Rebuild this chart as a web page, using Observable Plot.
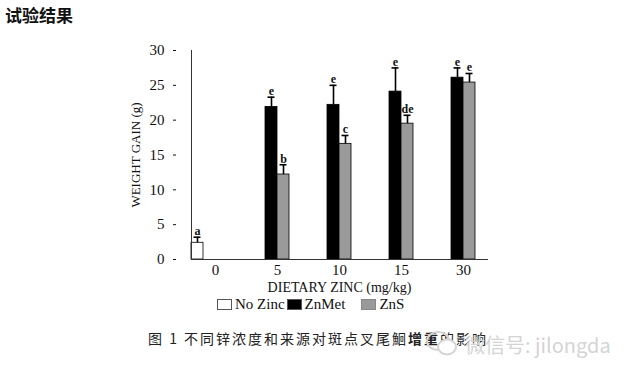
<!DOCTYPE html>
<html><head><meta charset="utf-8">
<script src="https://cdn.jsdelivr.net/npm/d3@7"></script>
<script src="https://cdn.jsdelivr.net/npm/@observablehq/plot@0.6"></script>
<style>
body{margin:0;background:#fff;width:640px;height:379px;position:relative;overflow:hidden;}
#chart{position:absolute;left:0;top:0;}
.title{position:absolute;left:5px;top:3px;font:bold 17px "Noto Sans CJK SC",sans-serif;color:#111;line-height:24px;}
.legend{position:absolute;left:217px;top:296px;font:15px "Liberation Serif",serif;color:#111;display:flex;align-items:center;white-space:nowrap;}
.legend .sw{display:inline-block;width:15px;height:11px;box-sizing:border-box;margin-right:3px;}
.legend .it{display:flex;align-items:center;}
.caption{position:absolute;left:148px;top:328px;font:14px "Noto Sans CJK SC",sans-serif;color:#222;letter-spacing:2px;line-height:20px;white-space:nowrap;}
.wm{position:absolute;left:465px;top:332px;font:20px "Noto Sans CJK SC",sans-serif;color:#d4d4d4;line-height:26px;white-space:nowrap;}
.wmicon{position:absolute;left:425px;top:330px;}
</style></head><body>
<div class="title">试验结果</div>
<div id="chart"></div>
<div class="legend" id="legend"></div>
<div class="caption">图 1 不同锌浓度和来源对斑点叉尾鮰<b>增重</b>的影响</div>
<svg class="wmicon" width="34" height="28" viewBox="0 0 34 28"><g fill="none" stroke="#d4d4d4" stroke-width="2"><ellipse cx="13" cy="11" rx="11" ry="9"/><ellipse cx="22" cy="17" rx="9" ry="7.5" fill="#fff"/></g></svg>
<div class="wm">微信号: jilongda</div>
<script>
const doses = ["0", "5", "10", "15", "30"];
const series = ["No Zinc", "ZnMet", "ZnS"];
const colors = ["#ffffff", "#000000", "#9a9a9a"];
const yTicks = [0, 5, 10, 15, 20, 25, 30];
const xLabel = "DIETARY ZINC (mg/kg)";
const yLabel = "WEIGHT GAIN (g)";
// No Zinc only at dose 0
const noZinc = [2.4];
const noZincUpper = [3.2];
const noZincLetters = ["a"];
// ZnMet and ZnS at doses 5, 10, 15, 30
const znMet = [21.9, 22.2, 24.1, 26.1];
const znMetUpper = [23.3, 25.0, 27.5, 27.5];
const znMetLetters = ["e", "e", "e", "e"];
const znS = [12.2, 16.6, 19.5, 25.4];
const znSUpper = [13.6, 17.8, 20.7, 26.7];
const znSLetters = ["b", "c", "de", "e"];

const data = [];
data.push({dose: doses[0], series: series[0], value: noZinc[0], upper: noZincUpper[0], letter: noZincLetters[0]});
doses.slice(1).forEach((d, i) => {
  data.push({dose: d, series: series[1], value: znMet[i], upper: znMetUpper[i], letter: znMetLetters[i]});
  data.push({dose: d, series: series[2], value: znS[i], upper: znSUpper[i], letter: znSLetters[i]});
});

const chart = Plot.plot({
  width: 640, height: 300,
  marginTop: 50, marginBottom: 41, marginLeft: 172, marginRight: 135,
  style: {fontFamily: '"Liberation Serif", serif', fontSize: "15px", color: "#111", background: "transparent"},
  facet: {marginTop: 0, marginBottom: 0, marginLeft: 0, marginRight: 0},
  fx: {domain: doses, paddingInner: 0.23, paddingOuter: 0.29, label: null},
  x: {domain: [...series, " "], padding: 0, axis: null},
  y: {domain: [0, 30], axis: null},
  color: {domain: series, range: colors},
  marks: [
    Plot.barY(data, {fx: "dose", x: "series", y: "value", fill: "series", stroke: "#000", strokeWidth: 0.8}),
    Plot.ruleX(data, {fx: "dose", x: "series", y1: "value", y2: "upper", stroke: "#000", strokeWidth: 1.6}),
    Plot.tickY(data, {fx: "dose", x: "series", y: "upper", insetLeft: 2.5, insetRight: 2.5, stroke: "#000", strokeWidth: 1.6}),
    Plot.text(data, {fx: "dose", x: "series", y: "upper", text: "letter", lineAnchor: "bottom", dy: -2, fontSize: 12, fontWeight: "bold", fill: "#111"}),
    Plot.axisY({ticks: yTicks, tickSize: -3, tickPadding: 12, dx: -18, label: null, fontSize: 15}),
    Plot.axisY({ticks: [], label: yLabel, labelAnchor: "center", labelArrow: "none", labelOffset: 61, fontSize: 13}),
    Plot.frame({anchor: "left", facet: "super", stroke: "#333"}),
    Plot.frame({anchor: "bottom", facet: "super", stroke: "#333"}),
    Plot.axisFx({anchor: "bottom", tickSize: 0, tickPadding: 5, label: null, fontSize: 15}),
    Plot.text([xLabel], {text: d => d, frameAnchor: "bottom", facet: "super", dy: 28, lineAnchor: "middle", fontSize: 14, fill: "#111"})
  ]
});
document.getElementById("chart").appendChild(chart);

const legend = document.getElementById("legend");
const gaps = [2, 16, 0];
series.forEach((s, i) => {
  const it = document.createElement("span");
  it.className = "it";
  it.style.marginRight = gaps[i] + "px";
  const sw = document.createElement("span");
  sw.className = "sw";
  sw.style.background = colors[i];
  sw.style.border = "1px solid " + (i === 2 ? "#888" : "#555");
  const t = document.createElement("span");
  t.textContent = s;
  it.appendChild(sw); it.appendChild(t);
  legend.appendChild(it);
});
</script>
</body></html>
